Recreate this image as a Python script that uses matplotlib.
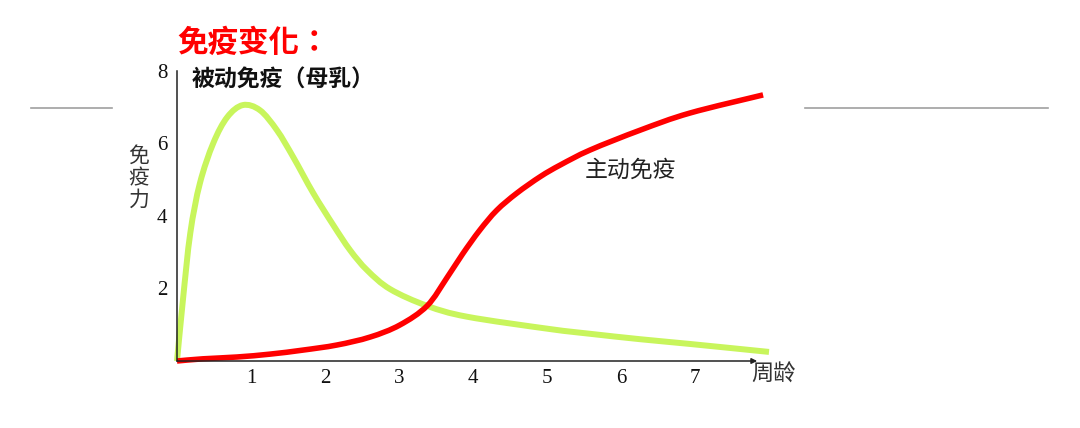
import matplotlib
matplotlib.use("Agg")
import matplotlib.pyplot as plt
from matplotlib.lines import Line2D
from matplotlib.path import Path
from matplotlib.patches import PathPatch

plt.rcParams['font.family'] = ['Noto Sans CJK SC', 'DejaVu Sans']

# ---- data ----
passive_x = [0, 0.08, 0.18, 0.31, 0.49, 0.68, 0.89, 1.12, 1.35, 1.57, 1.84, 2.11,
             2.34, 2.57, 2.88, 3.38, 3.92, 5.04, 5.58, 6.26, 6.93, 8.0]
passive_y = [0, 1.68, 3.53, 4.9, 6.0, 6.72, 7.05, 6.91, 6.36, 5.62, 4.63, 3.75,
             3.05, 2.50, 1.98, 1.52, 1.22, 0.88, 0.75, 0.60, 0.47, 0.25]

active_x = [0, 0.35, 0.81, 1.26, 1.70, 2.16, 2.61, 3.01, 3.38, 3.65, 3.86, 4.09,
            4.32, 4.59, 4.91, 5.18, 5.58, 6.26, 6.93, 7.92]
active_y = [0, 0.06, 0.11, 0.19, 0.30, 0.44, 0.66, 0.99, 1.52, 2.30, 2.95, 3.60,
            4.15, 4.62, 5.08, 5.40, 5.81, 6.36, 6.83, 7.33]

x_ticks = [1, 2, 3, 4, 5, 6, 7]
y_ticks = [2, 4, 6, 8]

title_text = "免疫变化："
passive_label = "被动免疫（母乳）"
active_label = "主动免疫"
y_label_chars = ["免", "疫", "力"]
x_label = "周龄"


def smooth_path(xs, ys):
    """Catmull-Rom curve through the read points, drawn as cubic Bezier segments."""
    pts = list(zip(xs, ys))
    n = len(pts)
    verts = [pts[0]]
    codes = [Path.MOVETO]
    for i in range(n - 1):
        p0 = pts[i - 1] if i > 0 else pts[i]
        p1 = pts[i]
        p2 = pts[i + 1]
        p3 = pts[i + 2] if i + 2 < n else pts[i + 1]
        c1 = (p1[0] + (p2[0] - p0[0]) / 6, p1[1] + (p2[1] - p0[1]) / 6)
        c2 = (p2[0] - (p3[0] - p1[0]) / 6, p2[1] - (p3[1] - p1[1]) / 6)
        verts += [c1, c2, p2]
        codes += [Path.CURVE4] * 3
    return Path(verts, codes)


# ---- figure ----
W, H = 1080, 428
fig = plt.figure(figsize=(W / 100, H / 100), dpi=100)
ax = fig.add_axes([177 / W, 67 / H, 592 / W, 290.4 / H])
ax.set_xlim(0, 8)
ax.set_ylim(0, 8)
for s in ax.spines.values():
    s.set_visible(False)
ax.patch.set_alpha(0)

green = "#c8f55c"
red = "#ff0000"
ax.add_patch(PathPatch(smooth_path(passive_x, passive_y), facecolor='none',
                       edgecolor=green, lw=4.3, capstyle='butt', joinstyle='round',
                       zorder=3, clip_on=False))
ax.add_patch(PathPatch(smooth_path(active_x, active_y), facecolor='none',
                       edgecolor=red, lw=4.0, capstyle='butt', joinstyle='round',
                       zorder=4, clip_on=False))

# axes lines
ax.plot([0, 0], [0, 8], color="#222222", lw=1.1, clip_on=False, zorder=5)
ax.annotate("", xy=(7.84, 0), xytext=(0, 0),
            arrowprops=dict(arrowstyle="-|>", color="#222222", lw=1.1,
                            mutation_scale=8, shrinkA=0, shrinkB=0),
            annotation_clip=False, zorder=5)

ax.set_xticks(x_ticks)
ax.set_yticks(y_ticks)
ax.set_xticklabels([str(v) for v in x_ticks], family="Liberation Serif", fontsize=15)
ax.set_yticklabels([str(v) for v in y_ticks], family="Liberation Serif", fontsize=15)
ax.tick_params(axis='both', length=0, colors="#111111")
ax.tick_params(axis='x', pad=6)
ax.tick_params(axis='y', pad=7)

# y label, stacked characters
for i, ch in enumerate(y_label_chars):
    fig.text(139 / W, 1 - (156 + i * 22) / H, ch, fontsize=15, color="#333333",
             ha='center', va='center')

fig.text(774 / W, 1 - 374 / H, x_label, fontsize=16, color="#333333",
         ha='center', va='center')

# in-plot labels
fig.text(192 / W, 1 - 80 / H, passive_label, fontsize=16.5, fontweight='bold',
         color="#111111", ha='left', va='center')
fig.text(585 / W, 1 - 170 / H, active_label, fontsize=16.5, color="#222222",
         ha='left', va='center')

# title
fig.text(177 / W, 1 - 43 / H, title_text, fontsize=22, fontweight='bold',
         color=red, ha='left', va='center',
         family=['Noto Sans CJK TC', 'DejaVu Sans'])

# decorative gray rules
fig.add_artist(Line2D([31 / W, 112 / W], [1 - 108 / H, 1 - 108 / H],
                      color="#a0a0a0", lw=1.2))
fig.add_artist(Line2D([805 / W, 1048 / W], [1 - 108 / H, 1 - 108 / H],
                      color="#a0a0a0", lw=1.2))

fig.savefig("out.png", dpi=100)
